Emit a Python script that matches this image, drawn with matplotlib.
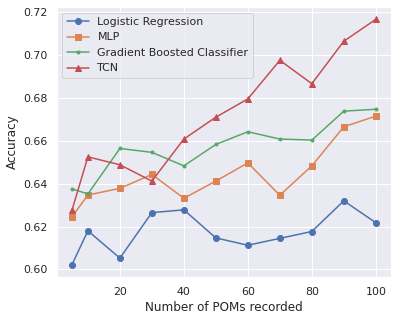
import numpy as np
import matplotlib
matplotlib.use("Agg")
import matplotlib.pyplot as plt
import seaborn as sns

n_poms = [5, 10, 20, 30, 40, 50, 60, 70, 80, 90, 100]
logistic = [0.6022, 0.6180, 0.6053, 0.6265, 0.6278, 0.6147, 0.6113, 0.6145, 0.6177, 0.6320, 0.6218]
mlp = [0.6245, 0.6347, 0.6378, 0.6443, 0.6332, 0.6412, 0.6497, 0.6346, 0.6483, 0.6665, 0.6715]
gbc = [0.6376, 0.6352, 0.6564, 0.6546, 0.6483, 0.6583, 0.6642, 0.6608, 0.6603, 0.6738, 0.6747]
tcn = [0.6275, 0.6525, 0.6488, 0.6412, 0.6608, 0.6710, 0.6795, 0.6975, 0.6866, 0.7064, 0.7166]

sns.set_theme(style="darkgrid", context="notebook")

fig, ax = plt.subplots(figsize=(398 / 72, 321 / 72), dpi=72)
ax.plot(n_poms, logistic, marker="o", label="Logistic Regression")
ax.plot(n_poms, mlp, marker="s", label="MLP")
ax.plot(n_poms, gbc, marker=".", label="Gradient Boosted Classifier")
ax.plot(n_poms, tcn, marker="^", label="TCN")

ax.set_xlabel("Number of POMs recorded")
ax.set_ylabel("Accuracy")
ax.set_yticks([0.60, 0.62, 0.64, 0.66, 0.68, 0.70, 0.72])
ax.yaxis.set_major_formatter(matplotlib.ticker.FormatStrFormatter("%.2f"))
ax.legend(loc="upper left")

fig.subplots_adjust(left=0.1425, right=0.9824, top=0.978, bottom=0.137)
fig.savefig("out.png", dpi=72)
